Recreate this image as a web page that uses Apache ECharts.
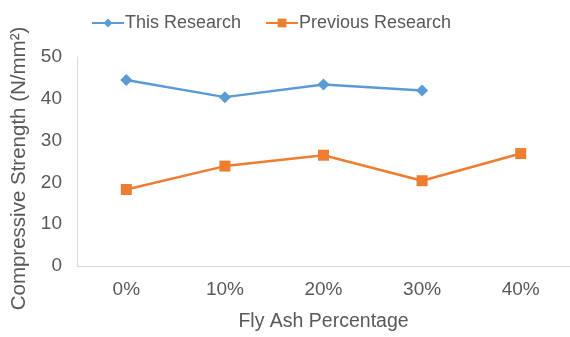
<!DOCTYPE html>
<html>
<head>
<meta charset="utf-8">
<script src="https://cdn.jsdelivr.net/npm/echarts@6/dist/echarts.min.js"></script>
<style>
  html, body { margin: 0; padding: 0; background: #fff; }
  #chart { width: 570px; height: 337px; }
</style>
</head>
<body>
<div id="chart"></div>
<script>
// Fly ash replacement levels and compressive strength results (N/mm²)
const categories = ['0%', '10%', '20%', '30%', '40%'];
const thisResearch = [44.5, 40.4, 43.4, 42.0];
const previousResearch = [18.3, 23.9, 26.5, 20.4, 26.9];
const yTicks = { min: 0, max: 50, interval: 10 };

const font = 'Liberation Sans, Arial, sans-serif';
const textColor = '#595959';

const chart = echarts.init(document.getElementById('chart'), null, { renderer: 'canvas' });
chart.setOption({
  animation: false,
  backgroundColor: '#ffffff',
  textStyle: { fontFamily: font },
  legend: {
    top: 9,
    left: 86,
    itemWidth: 32,
    itemHeight: 11,
    itemGap: 24,
    textStyle: { fontFamily: font, fontSize: 18, color: textColor, padding: [0, 0, 0, -4] },
    data: ['This Research', 'Previous Research']
  },
  grid: { left: 77, top: 57, width: 498, height: 216, containLabel: false },
  xAxis: {
    type: 'category',
    data: categories,
    boundaryGap: true,
    name: 'Fly Ash Percentage',
    nameLocation: 'middle',
    nameGap: 46,
    nameTextStyle: { fontFamily: font, fontSize: 19.5, color: textColor },
    axisLine: { lineStyle: { color: '#d9d9d9', width: 1 } },
    axisTick: { show: false },
    axisLabel: { fontFamily: font, fontSize: 19, color: textColor, margin: 14 }
  },
  yAxis: {
    type: 'value',
    min: yTicks.min,
    max: yTicks.max,
    interval: yTicks.interval,
    name: 'Compressive Strength (N/mm²)',
    nameLocation: 'middle',
    nameGap: 47,
    nameTextStyle: { fontFamily: font, fontSize: 20.5, color: textColor, padding: [0, 14, 0, 0] },
    axisLine: { show: true, lineStyle: { color: '#d9d9d9', width: 1 } },
    axisTick: { show: false },
    splitLine: { show: false },
    axisLabel: { fontFamily: font, fontSize: 19, color: textColor, margin: 15 }
  },
  series: [
    {
      name: 'This Research',
      type: 'line',
      data: thisResearch,
      symbol: 'diamond',
      symbolSize: 12,
      lineStyle: { color: '#5b9bd5', width: 2.5 },
      itemStyle: { color: '#5b9bd5' }
    },
    {
      name: 'Previous Research',
      type: 'line',
      data: previousResearch,
      symbol: 'rect',
      symbolSize: 11,
      lineStyle: { color: '#ed7d31', width: 2.5 },
      itemStyle: { color: '#ed7d31' }
    }
  ]
});
</script>
</body>
</html>
